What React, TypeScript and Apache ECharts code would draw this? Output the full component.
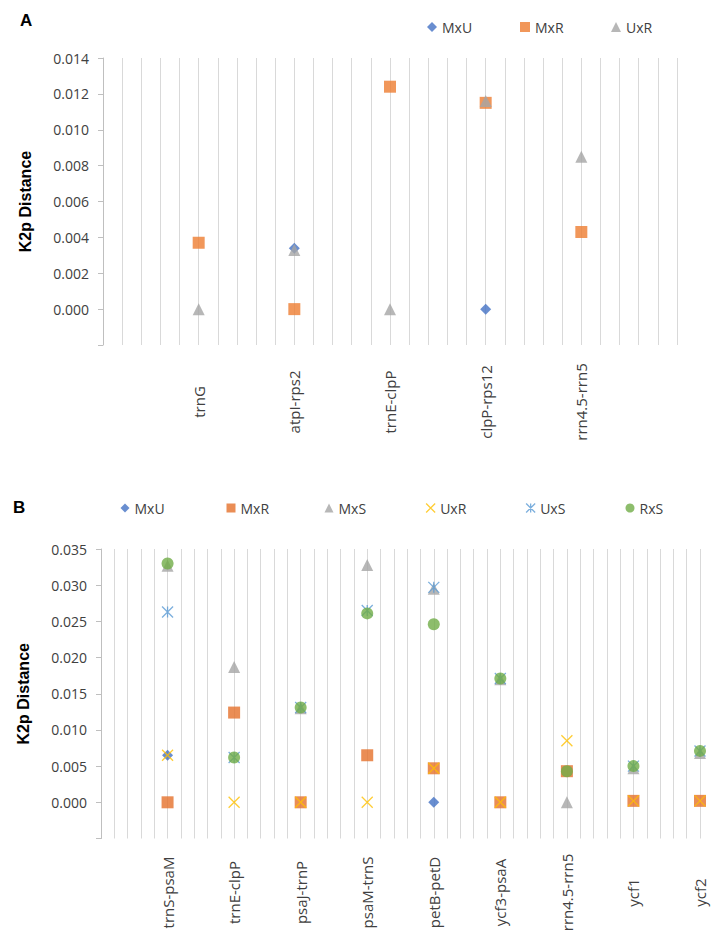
import React, { useEffect, useRef } from 'react';
import * as echarts from 'echarts';

// ---------- Panel A data ----------
const categoriesA = ['trnG', 'atpI-rps2', 'trnE-clpP', 'clpP-rps12', 'rrn4.5-rrn5'];
const mxuA: (number | null)[] = [null, 0.0034, null, 0.0, null];
const mxrA: (number | null)[] = [0.0037, 0.0, 0.0124, 0.0115, 0.0043];
const uxrA: (number | null)[] = [0.0, 0.0033, 0.0, 0.0116, 0.0085];
const yMinA = -0.002;
const yMaxA = 0.014;
const yStepA = 0.002;

// ---------- Panel B data ----------
const categoriesB = ['trnS-psaM', 'trnE-clpP', 'psaJ-trnP', 'psaM-trnS', 'petB-petD', 'ycf3-psaA', 'rrn4.5-rrn5', 'ycf1', 'ycf2'];
const mxuB: (number | null)[] = [0.0065, null, null, null, 0.0, null, null, null, null];
const mxrB: (number | null)[] = [0.0, 0.0124, 0.0, 0.0065, 0.0047, 0.0, 0.0043, 0.0002, 0.0002];
const mxsB: (number | null)[] = [0.0327, 0.0187, 0.013, 0.0328, 0.0295, 0.017, 0.0, 0.0047, 0.0068];
const uxrB: (number | null)[] = [0.0065, 0.0, 0.0, 0.0, 0.0047, 0.0, 0.0085, 0.0002, 0.0002];
const uxsB: (number | null)[] = [0.0263, 0.0062, 0.0131, 0.0265, 0.0297, 0.0171, null, 0.005, 0.0071];
const rxsB: (number | null)[] = [0.033, 0.0062, 0.0131, 0.0261, 0.0246, 0.0171, 0.0043, 0.005, 0.0071];
const yMinB = -0.005;
const yMaxB = 0.035;
const yStepB = 0.005;

const yAxisTitle = 'K2p Distance';

// ---------- styling ----------
const FONT = "'Open Sans', 'DejaVu Sans', sans-serif";
const BOLD = "'Liberation Sans', Arial, sans-serif";
const TXT = '#404040';
const GRID = '#D9D9D9';
const AXIS = '#BFBFBF';
const STEP = 5; // gridline slots per category
const SYM_X = 'path://M0,0L10,10M10,0L0,10';
const SYM_STAR = 'path://M0,0L10,10M10,0L0,10M5,0L5,10';

type S = { name: string; values: (number | null)[]; symbol: string; size: number; color: string; line?: boolean };

type Panel = {
  panel: string;
  panelLeft: number;
  panelTop: number;
  categories: string[];
  slotCount: number;
  grid: { left: number; top: number; width: number; height: number };
  yMin: number;
  yMax: number;
  yStep: number;
  labelMargin: number;
  labelSize: number;
  legendX: number[];
  legendY: number;
  legendIcon: number;
  series: S[];
};

function buildOption(p: Panel) {
  const slots = Array.from({ length: p.slotCount + 1 }, (_, i) =>
    i > 0 && i % STEP === 0 && i / STEP <= p.categories.length ? p.categories[i / STEP - 1] : ''
  );
  return {
    animation: false,
    title: {
      text: p.panel,
      left: p.panelLeft,
      top: p.panelTop,
      padding: 0,
      textStyle: { fontFamily: BOLD, fontWeight: 'bold', fontSize: 17, color: '#000' },
    },
    legend: p.series.map((s, i) => ({
      data: [s.name],
      left: p.legendX[i] - p.legendIcon / 2,
      top: p.legendY - 7,
      padding: 0,
      itemWidth: p.legendIcon,
      itemHeight: p.legendIcon,
      selectedMode: false,
      textStyle: { fontFamily: FONT, fontSize: 14, color: TXT },
      itemStyle: s.line
        ? { color: 'transparent', borderColor: s.color, borderWidth: 1.3 }
        : { borderWidth: 0 },
    })),
    grid: { ...p.grid, containLabel: false },
    xAxis: {
      type: 'category',
      data: slots,
      boundaryGap: false,
      axisLine: { show: false },
      axisTick: { show: false },
      splitLine: { show: true, interval: 0, lineStyle: { color: GRID, width: 1 } },
      axisLabel: {
        interval: 0,
        rotate: 90,
        align: 'center',
        verticalAlign: 'middle',
        margin: p.labelMargin,
        fontFamily: FONT,
        fontSize: p.labelSize,
        color: TXT,
      },
    },
    yAxis: {
      type: 'value',
      min: p.yMin,
      max: p.yMax,
      interval: p.yStep,
      name: yAxisTitle,
      nameLocation: 'middle',
      nameRotate: 90,
      nameGap: 70,
      nameTextStyle: { fontFamily: BOLD, fontWeight: 'bold', fontSize: 16, color: '#000' },
      axisLine: { show: true, lineStyle: { color: AXIS, width: 1 } },
      axisTick: { show: true, inside: false, length: 5, lineStyle: { color: AXIS } },
      splitLine: { show: false },
      axisLabel: {
        margin: 14,
        fontFamily: FONT,
        fontSize: 14,
        color: TXT,
        formatter: (v: number) => (v < -1e-9 ? '' : Math.abs(v) < 1e-9 ? '0.000' : v.toFixed(3)),
      },
    },
    series: p.series.map((s) => ({
      type: 'scatter',
      name: s.name,
      symbol: s.symbol,
      symbolSize: s.size,
      data: s.values
        .map((v, i) => (v === null ? null : [(i + 1) * STEP, v]))
        .filter((d) => d !== null),
      itemStyle: s.line
        ? { color: 'transparent', borderColor: s.color, borderWidth: 1.3 }
        : { color: s.color },
    })),
  };
}

const panelA: Panel = {
  panel: 'A',
  panelLeft: 20,
  panelTop: 12,
  categories: categoriesA,
  slotCount: 30,
  grid: { left: 103, top: 58, width: 574, height: 287 },
  yMin: yMinA,
  yMax: yMaxA,
  yStep: yStepA,
  labelMargin: 57,
  labelSize: 15,
  legendX: [432, 525, 616],
  legendY: 27,
  legendIcon: 10,
  series: [
    { name: 'MxU', values: mxuA, symbol: 'diamond', size: 11, color: '#4472C4' },
    { name: 'MxR', values: mxrA, symbol: 'rect', size: 12, color: '#ED7D31' },
    { name: 'UxR', values: uxrA, symbol: 'triangle', size: 12, color: '#A5A5A5' },
  ],
};

const panelB: Panel = {
  panel: 'B',
  panelLeft: 13,
  panelTop: 29,
  categories: categoriesB,
  slotCount: 45,
  grid: { left: 101, top: 79, width: 599, height: 289.5 },
  yMin: yMinB,
  yMax: yMaxB,
  yStep: yStepB,
  labelMargin: 54,
  labelSize: 15,
  legendX: [125, 231, 329, 430, 530, 630],
  legendY: 38,
  legendIcon: 9,
  series: [
    { name: 'MxU', values: mxuB, symbol: 'diamond', size: 11, color: '#4472C4' },
    { name: 'MxR', values: mxrB, symbol: 'rect', size: 12, color: '#E5702A' },
    { name: 'MxS', values: mxsB, symbol: 'triangle', size: 12, color: '#A5A5A5' },
    { name: 'UxR', values: uxrB, symbol: SYM_X, size: 11, color: '#FFC000', line: true },
    { name: 'UxS', values: uxsB, symbol: SYM_STAR, size: 11, color: '#5B9BD5', line: true },
    { name: 'RxS', values: rxsB, symbol: 'circle', size: 12, color: '#70AD47' },
  ],
};

export default function App() {
  const refA = useRef<HTMLDivElement>(null);
  const refB = useRef<HTMLDivElement>(null);
  useEffect(() => {
    const a = echarts.init(refA.current!, undefined, { renderer: 'svg' });
    const b = echarts.init(refB.current!, undefined, { renderer: 'svg' });
    a.setOption(buildOption(panelA) as any);
    b.setOption(buildOption(panelB) as any);
    return () => {
      a.dispose();
      b.dispose();
    };
  }, []);
  return (
    <div style={{ position: 'absolute', left: 0, top: 0, width: 726, height: 951, background: '#fff' }}>
      <div ref={refA} style={{ position: 'absolute', left: 0, top: 0, width: 726, height: 470 }} />
      <div ref={refB} style={{ position: 'absolute', left: 0, top: 470, width: 726, height: 481 }} />
    </div>
  );
}
